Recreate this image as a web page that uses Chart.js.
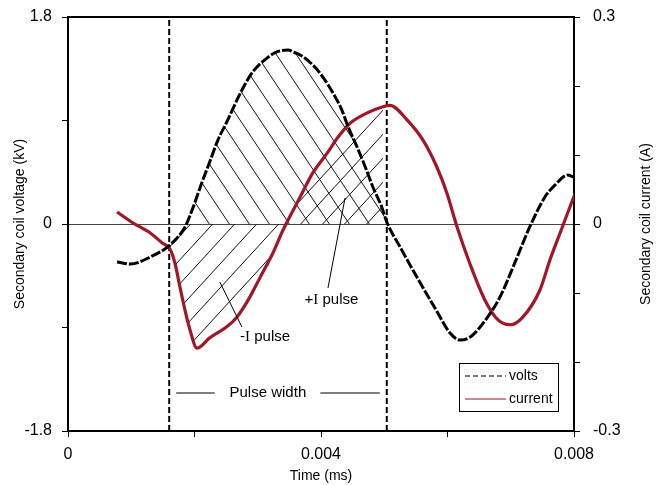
<!DOCTYPE html>
<html>
<head>
<meta charset="utf-8">
<script src="https://cdn.jsdelivr.net/npm/chart.js@4"></script>
<style>
  html, body { margin: 0; padding: 0; background: #fff; }
  #wrap { width: 657px; height: 485px; position: relative; }
</style>
</head>
<body>
<div id="wrap"><canvas id="coilChart"></canvas></div>
<script>
// secondary coil voltage (kV) vs time
const voltTime = [0.000775, 0.00098, 0.0013, 0.00161, 0.00185, 0.00198, 0.00212, 0.00224, 0.00237, 0.00251,
  0.00275, 0.00292, 0.00315, 0.0033, 0.00348, 0.00356, 0.00367, 0.00387, 0.00403, 0.00419,
  0.00433, 0.00443, 0.00457, 0.0047, 0.00482, 0.00496, 0.00504, 0.00525, 0.00557, 0.00582,
  0.00604, 0.0062, 0.00636, 0.00659, 0.00683, 0.00707, 0.0073, 0.00754, 0.0077, 0.0079, 0.00802];
const voltValues = [-0.33, -0.348, -0.287, -0.183, -0.026, 0.148, 0.365, 0.539, 0.73, 0.887,
  1.165, 1.322, 1.444, 1.496, 1.513, 1.496, 1.47, 1.383, 1.278, 1.139,
  0.991, 0.843, 0.67, 0.496, 0.322, 0.148, 0.017, -0.2, -0.513, -0.748,
  -0.948, -1.009, -0.983, -0.843, -0.635, -0.33, -0.026, 0.235, 0.339, 0.426, 0.4];

// secondary coil current (A) vs time
const currTime = [0.000775, 0.00103, 0.0013, 0.00149, 0.00161, 0.00169, 0.00177, 0.00185, 0.00193, 0.00204,
  0.00224, 0.00251, 0.00267, 0.00285, 0.00304, 0.00324, 0.0034, 0.00367, 0.00387, 0.0041,
  0.00427, 0.00446, 0.00473, 0.00498, 0.00509, 0.00536, 0.00561, 0.00583, 0.00599, 0.00615,
  0.00636, 0.00659, 0.0068, 0.00699, 0.00718, 0.00746, 0.00762, 0.00778, 0.00802];
const currValues = [0.0174, 0.0014, -0.013, -0.0275, -0.036, -0.0565, -0.0913, -0.125, -0.154, -0.18,
  -0.165, -0.149, -0.135, -0.11, -0.077, -0.042, -0.0087, 0.039, 0.074, 0.103,
  0.126, 0.146, 0.161, 0.17, 0.172, 0.151, 0.122, 0.083, 0.045, -0.004,
  -0.059, -0.11, -0.139, -0.146, -0.136, -0.096, -0.052, -0.013, 0.045];

const xTickLabels = [0, 0.004, 0.008];
const voltTickLabels = [-1.8, 0, 1.8];
const currTickLabels = [-0.3, 0, 0.3];

const pulseStart = 0.0016;
const pulseEnd = 0.00504;

const voltPoints = voltTime.map((t, i) => ({ x: t, y: voltValues[i] }));
const currPoints = currTime.map((t, i) => ({ x: t, y: currValues[i] }));

const canvas = document.getElementById('coilChart');
const ctx = canvas.getContext('2d');
const FONT = '"Liberation Sans", Arial, sans-serif';
Chart.defaults.font.family = FONT;

// diagonal hatch tiles
function makeHatch(w, h, dir) {
  const tile = document.createElement('canvas');
  tile.width = w;
  tile.height = h;
  const t = tile.getContext('2d');
  t.strokeStyle = '#111';
  t.lineWidth = 1;
  t.beginPath();
  for (const dx of [-w, 0, w]) {
    if (dir === 'down') { t.moveTo(dx, 0); t.lineTo(dx + w, h); }
    else { t.moveTo(dx, h); t.lineTo(dx + w, 0); }
  }
  t.stroke();
  return ctx.createPattern(tile, 'repeat');
}
const hatchDown = makeHatch(20, 30, 'down');
const hatchUp = makeHatch(22, 24, 'up');

function tickText(list, v) {
  const hit = list.find(l => Math.abs(l - v) < 1e-9);
  return hit === undefined ? '' : String(hit);
}

// keep the plot frame flush with the layout padding
function fitY(width) {
  return s => {
    s.width = width;
    s.paddingTop = 0;
    s.paddingBottom = 0;
  };
}

const RED = '#a01828';

// text and leader lines drawn on the plot
const notesPlugin = {
  id: 'notes',
  afterDatasetsDraw(chart) {
    const c = chart.ctx;
    const x = chart.scales.x, y = chart.scales.y;
    c.save();
    c.strokeStyle = '#000';
    c.lineWidth = 1;
    c.beginPath();
    c.moveTo(x.getPixelForValue(0.0024), y.getPixelForValue(-0.504));
    c.lineTo(x.getPixelForValue(0.00275), y.getPixelForValue(-0.896));
    c.moveTo(x.getPixelForValue(0.00438), y.getPixelForValue(0.226));
    c.lineTo(x.getPixelForValue(0.00411), y.getPixelForValue(-0.557));
    c.stroke();

    const sans = '15px ' + FONT;
    const serif = '15px "Liberation Serif", "Times New Roman", serif';
    function pulseLabel(sign, px, py) {
      c.textBaseline = 'middle';
      c.textAlign = 'left';
      c.fillStyle = '#000';
      let cx = px;
      c.font = sans; c.fillText(sign, cx, py); cx += c.measureText(sign).width;
      c.font = serif; c.fillText('I', cx, py); cx += c.measureText('I').width;
      c.font = sans; c.fillText(' pulse', cx, py);
    }
    pulseLabel('-', x.getPixelForValue(0.00272), y.getPixelForValue(-0.983));
    pulseLabel('+', x.getPixelForValue(0.00374), y.getPixelForValue(-0.661));

    // pulse width marker
    const py = y.getPixelForValue(-1.47);
    c.strokeStyle = '#555';
    c.lineWidth = 1.5;
    c.beginPath();
    c.moveTo(x.getPixelForValue(0.00171), py);
    c.lineTo(x.getPixelForValue(0.00232), py);
    c.moveTo(x.getPixelForValue(0.00399), py);
    c.lineTo(x.getPixelForValue(0.00493), py);
    c.stroke();
    c.font = sans;
    c.textAlign = 'center';
    c.fillText('Pulse width', x.getPixelForValue(0.00316), py);
    c.restore();
  },
  afterDraw(chart) {
    const c = chart.ctx;
    const a = chart.chartArea;
    c.save();
    // top frame line
    c.strokeStyle = '#000';
    c.lineWidth = 2;
    c.beginPath();
    c.moveTo(a.left - 1, a.top);
    c.lineTo(a.right + 1, a.top);
    c.stroke();

    // right axis title, reading bottom to top
    c.save();
    c.translate(646, (a.top + a.bottom) / 2);
    c.rotate(-Math.PI / 2);
    c.font = '14px ' + FONT;
    c.fillStyle = '#000';
    c.textAlign = 'center';
    c.textBaseline = 'middle';
    c.fillText('Secondary coil current (A)', 0, 0);
    c.restore();

    // legend box
    const bx = a.right - 115, by = a.bottom - 68, bw = 99, bh = 48;
    c.fillStyle = '#fff';
    c.fillRect(bx, by, bw, bh);
    c.lineWidth = 1;
    c.strokeStyle = '#000';
    c.strokeRect(bx + 0.5, by + 0.5, bw, bh);
    const items = chart.data.datasets.slice(0, 2);
    c.font = '14px ' + FONT;
    c.textBaseline = 'middle';
    c.textAlign = 'left';
    items.forEach((ds, i) => {
      const ly = by + 13 + i * 23;
      c.strokeStyle = i === 0 ? '#444' : '#c0606a';
      c.lineWidth = 1.5;
      c.setLineDash(i === 0 ? [5, 3] : []);
      c.beginPath();
      c.moveTo(bx + 6, ly);
      c.lineTo(bx + 47, ly);
      c.stroke();
      c.setLineDash([]);
      c.fillStyle = '#000';
      c.fillText(ds.label, bx + 50, ly);
    });
    c.restore();
  }
};

const chart = new Chart(ctx, {
  type: 'line',
  data: {
    datasets: [
      {
        label: 'volts',
        data: voltPoints,
        yAxisID: 'y',
        borderColor: '#000',
        borderWidth: 3,
        borderDash: [10, 2],
        pointRadius: 0,
        fill: false,
        cubicInterpolationMode: 'monotone'
      },
      {
        label: 'current',
        data: currPoints,
        yAxisID: 'y1',
        borderColor: RED,
        borderWidth: 3.2,
        pointRadius: 0,
        fill: false,
        cubicInterpolationMode: 'monotone'
      },
      {
        label: 'pulse start',
        data: [{ x: pulseStart, y: -1.8 }, { x: pulseStart, y: 1.8 }],
        yAxisID: 'y',
        borderColor: '#000',
        borderWidth: 2,
        borderDash: [6, 3],
        pointRadius: 0
      },
      {
        label: 'pulse end',
        data: [{ x: pulseEnd, y: -1.8 }, { x: pulseEnd, y: 1.8 }],
        yAxisID: 'y',
        borderColor: '#000',
        borderWidth: 2,
        borderDash: [6, 3],
        pointRadius: 0
      },
      {
        label: 'volt hatch',
        data: voltPoints.filter(p => p.x >= pulseStart && p.x <= pulseEnd && p.y >= 0),
        yAxisID: 'y',
        borderWidth: 0,
        borderColor: 'transparent',
        backgroundColor: hatchDown,
        pointRadius: 0,
        fill: 'origin',
        cubicInterpolationMode: 'monotone'
      },
      {
        label: 'current hatch',
        data: currPoints.filter(p => p.x >= pulseStart && p.x <= pulseEnd),
        yAxisID: 'y1',
        borderWidth: 0,
        borderColor: 'transparent',
        backgroundColor: hatchUp,
        pointRadius: 0,
        fill: 'origin',
        cubicInterpolationMode: 'monotone'
      }
    ]
  },
  options: {
    responsive: true,
    maintainAspectRatio: false,
    animation: false,
    layout: { padding: { top: 17, left: 0, right: 0, bottom: 0 } },
    plugins: {
      legend: { display: false },
      tooltip: { enabled: false }
    },
    scales: {
      x: {
        type: 'linear',
        min: 0,
        max: 0.008,
        afterFit: s => { s.height = 54; },
        border: { color: '#000', width: 2 },
        grid: { drawOnChartArea: false, drawTicks: true, tickLength: 6, color: '#000' },
        ticks: {
          stepSize: 0.002,
          padding: 8,
          maxRotation: 0,
          color: '#000',
          font: { size: 16 },
          callback: v => tickText(xTickLabels, v)
        },
        title: {
          display: true,
          text: 'Time (ms)',
          color: '#000',
          font: { size: 14 },
          padding: { top: 0, bottom: 0 }
        }
      },
      y: {
        position: 'left',
        min: -1.8,
        max: 1.8,
        afterFit: fitY(68),
        border: { color: '#000', width: 2 },
        grid: {
          drawOnChartArea: true,
          drawTicks: true,
          tickLength: 6,
          tickColor: '#000',
          color: c => (c.tick && Math.abs(c.tick.value) < 1e-9) ? '#444' : 'transparent'
        },
        ticks: {
          stepSize: 0.9,
          padding: 10,
          color: '#000',
          font: { size: 16 },
          callback: v => tickText(voltTickLabels, v)
        },
        title: {
          display: true,
          text: 'Secondary coil voltage (kV)',
          color: '#000',
          font: { size: 14 },
          padding: { top: 12, bottom: 0 }
        }
      },
      y1: {
        position: 'right',
        min: -0.3,
        max: 0.3,
        afterFit: fitY(83),
        border: { color: '#000', width: 2 },
        grid: { drawOnChartArea: false, drawTicks: true, tickLength: 6, color: '#000' },
        ticks: {
          stepSize: 0.1,
          padding: 13,
          color: '#000',
          font: { size: 16 },
          callback: v => tickText(currTickLabels, v)
        }
      }
    }
  },
  plugins: [notesPlugin]
});
</script>
</body>
</html>
